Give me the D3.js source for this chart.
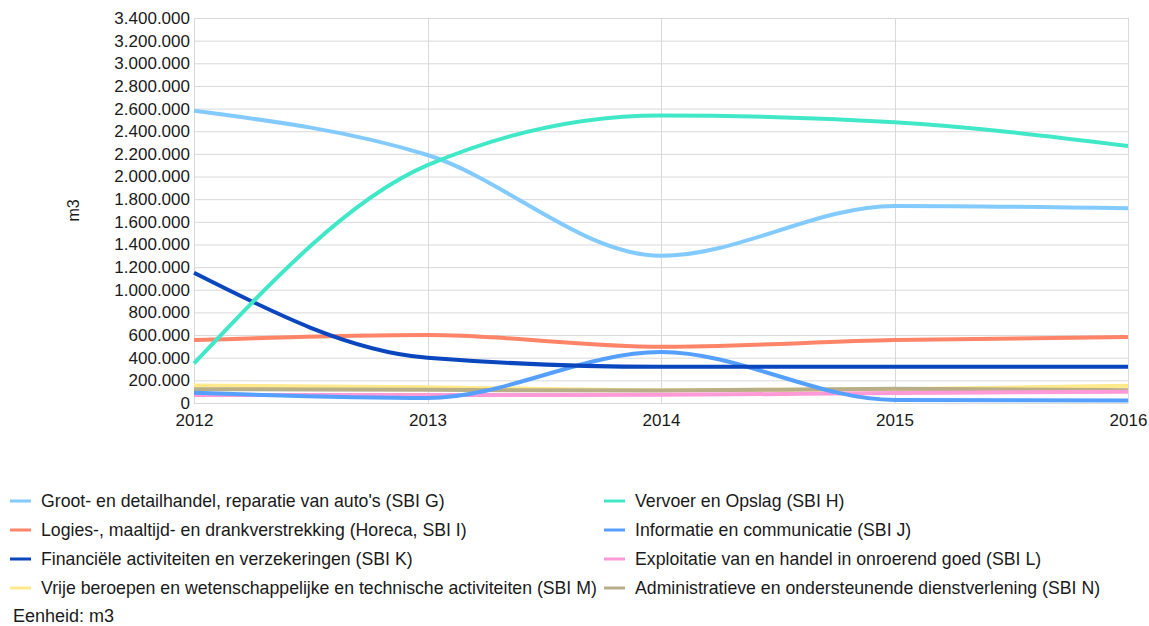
<!DOCTYPE html>
<html lang="nl">
<head>
<meta charset="UTF-8">
<title>Waterverbruik per sector</title>
<script src="https://d3js.org/d3.v7.min.js"></script>
<style>
  * { margin: 0; padding: 0; box-sizing: border-box; }
  body { background: #ffffff; font-family: "Liberation Sans", Arial, sans-serif; overflow: hidden; }
  .grid line { stroke: #d9d9d9; stroke-width: 1px; }
  .tick text { font-size: 17px; fill: #1a1a1a; }
  .legend text { font-size: 17.7px; fill: #1a1a1a; }
</style>
</head>
<body>
<svg></svg>
<script>
// jaren en reeksen (m3)
const years = [2012, 2013, 2014, 2015, 2016];
const sbiG = [2580000, 2190000, 1300000, 1740000, 1720000];
const sbiH = [350000, 2100000, 2540000, 2480000, 2270000];
const sbiI = [556000, 600000, 497000, 556000, 583000];
const sbiJ = [90000, 45000, 450000, 27000, 22000];
const sbiK = [1150000, 400000, 320000, 320000, 320000];
const sbiL = [70000, 70000, 72000, 88000, 100000];
const sbiM = [155000, 140000, 112000, 122000, 152000];
const sbiN = [122000, 116000, 110000, 126000, 112000];
const yTicks = d3.range(0, 3400001, 200000);

const series = [
  { name: "Groot- en detailhandel, reparatie van auto's (SBI G)", values: sbiG, color: "#83cbff" },
  { name: "Vervoer en Opslag (SBI H)", values: sbiH, color: "#40e8c8" },
  { name: "Logies-, maaltijd- en drankverstrekking (Horeca, SBI I)", values: sbiI, color: "#ff8468" },
  { name: "Informatie en communicatie (SBI J)", values: sbiJ, color: "#559fff" },
  { name: "Financiële activiteiten en verzekeringen (SBI K)", values: sbiK, color: "#0a46bd" },
  { name: "Exploitatie van en handel in onroerend goed (SBI L)", values: sbiL, color: "#ff9ad8" },
  { name: "Vrije beroepen en wetenschappelijke en technische activiteiten (SBI M)", values: sbiM, color: "#ffe98a" },
  { name: "Administratieve en ondersteunende dienstverlening (SBI N)", values: sbiN, color: "#b8ae88" }
];
// tekenvolgorde (achterste eerst)
const drawOrder = [6, 7, 5, 3, 2, 4, 0, 1];

const width = 1149, height = 626;
const margin = { left: 194, right: 21, top: 18, bottom: 223 };

const svg = d3.select("svg").attr("width", width).attr("height", height);

const x = d3.scaleLinear().domain([2012, 2016]).range([margin.left, width - margin.right]);
const y = d3.scaleLinear().domain([0, 3400000]).range([height - margin.bottom, margin.top]);

const fmt = d3.formatLocale({ decimal: ",", thousands: ".", grouping: [3], currency: ["€", ""] }).format(",d");

// rasterlijnen
const grid = svg.append("g").attr("class", "grid");
grid.selectAll(".h").data(yTicks).enter().append("line")
  .attr("x1", x(2012)).attr("x2", x(2016))
  .attr("y1", d => y(d) + 0.5).attr("y2", d => y(d) + 0.5);
grid.selectAll(".v").data(years).enter().append("line")
  .attr("y1", y(3400000)).attr("y2", y(0))
  .attr("x1", d => Math.round(x(d)) + 0.5).attr("x2", d => Math.round(x(d)) + 0.5);

// assen
const yAxis = svg.append("g")
  .attr("transform", `translate(${x(2012)},0)`)
  .call(d3.axisLeft(y).tickValues(yTicks).tickFormat(fmt).tickSize(0).tickPadding(4));
yAxis.select(".domain").remove();

const xAxis = svg.append("g")
  .attr("transform", `translate(0,${y(0)})`)
  .call(d3.axisBottom(x).tickValues(years).tickFormat(d3.format("d")).tickSize(0).tickPadding(11));
xAxis.select(".domain").remove();

svg.append("text")
  .attr("transform", `translate(73,${(y(0) + y(3400000)) / 2}) rotate(-90)`)
  .attr("text-anchor", "middle")
  .attr("dy", "0.35em")
  .style("font-size", "16px").style("fill", "#1a1a1a")
  .text("m3");

// lijnen
const line = d3.line()
  .x((d, i) => x(years[i]))
  .y(d => y(d))
  .curve(d3.curveMonotoneX);

svg.append("g").selectAll("path")
  .data(drawOrder.map(i => series[i]))
  .enter().append("path")
  .attr("d", d => line(d.values))
  .attr("fill", "none")
  .attr("stroke", d => d.color)
  .attr("stroke-width", 4)
  .attr("stroke-linejoin", "round");

// legenda
const legend = svg.append("g").attr("class", "legend");
const item = legend.selectAll("g").data(series).enter().append("g")
  .attr("transform", (d, i) => `translate(${i % 2 === 0 ? 10 : 604},${501 + Math.floor(i / 2) * 29})`);
item.append("line")
  .attr("x1", 0).attr("x2", 21)
  .attr("stroke", d => d.color).attr("stroke-width", 3);
item.append("text")
  .attr("x", 31).attr("dy", "0.35em")
  .text(d => d.name);

legend.append("text")
  .attr("x", 13).attr("y", 616).attr("dy", "0.35em")
  .style("font-size", "18px")
  .text("Eenheid: m3");
</script>
</body>
</html>
